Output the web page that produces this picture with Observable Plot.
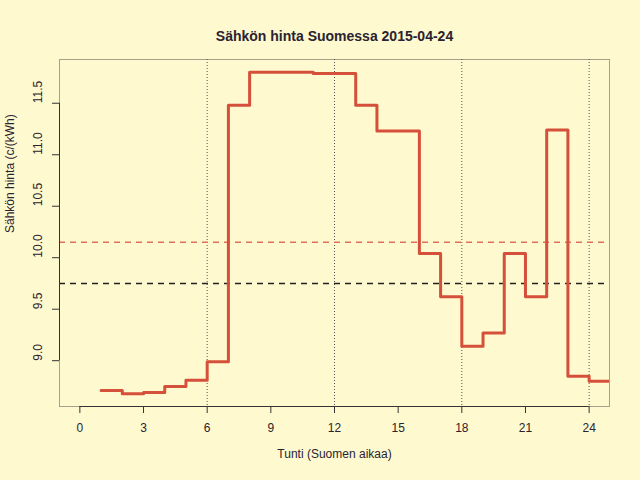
<!DOCTYPE html>
<html>
<head>
<meta charset="utf-8">
<script src="https://cdn.jsdelivr.net/npm/d3@7"></script>
<script src="https://cdn.jsdelivr.net/npm/@observablehq/plot@0.6"></script>
<style>
  html, body { margin: 0; padding: 0; background: #FEF9CE; }
</style>
</head>
<body>
<div id="chart"></div>
<script>
// Hourly electricity price (c/kWh), hour start 1..24
const hours  = [1, 2, 3, 4, 5, 6, 7, 8, 9, 10, 11, 12, 13, 14, 15, 16, 17, 18, 19, 20, 21, 22, 23, 24];
const prices = [8.71, 8.68, 8.69, 8.75, 8.81, 8.99, 11.48, 11.80, 11.80, 11.80, 11.79, 11.79,
                11.48, 11.23, 11.23, 10.04, 9.62, 9.14, 9.27, 10.04, 9.62, 11.24, 8.85, 8.80];
const meanPrice = 10.15;   // red dashed reference
const refPrice  = 9.75;    // black dashed reference
const xTicks = [0, 3, 6, 9, 12, 15, 18, 21, 24];
const yTicks = [9.0, 9.5, 10.0, 10.5, 11.0, 11.5];
const guideHours = [6, 12, 18, 24];
const titleText = "Sähkön hinta Suomessa 2015-04-24";
const xLabel = "Tunti (Suomen aikaa)";
const yLabel = "Sähkön hinta (c/(kWh)";

// step data: each hour's price holds until the next hour
const data = hours.map((h, i) => ({hour: h, price: prices[i]}));
data.push({hour: hours[hours.length - 1] + 1, price: prices[prices.length - 1]});

const xDomain = [-0.96, 24.96];
const yLo = 8.68, yHi = 11.80, pad = (yHi - yLo) * 0.04;
const yDomain = [yLo - pad, yHi + pad];

const ink = "#2a2330";
const font = "'Liberation Sans', Arial, Helvetica, sans-serif";

const chart = Plot.plot({
  width: 640,
  height: 480,
  marginLeft: 59,
  marginRight: 31,
  marginTop: 59,
  marginBottom: 74,
  style: {background: "#FEF9CE", fontFamily: font, color: ink, fontSize: "12px"},
  x: {domain: xDomain},
  y: {domain: yDomain},
  marks: [
    Plot.frame({stroke: "#a8a08c", strokeWidth: 1}),
    Plot.ruleX(guideHours, {stroke: "#555", strokeDasharray: "1,2", strokeWidth: 1}),
    Plot.ruleY([refPrice], {stroke: "#222", strokeDasharray: "6,5", strokeWidth: 1.4}),
    Plot.ruleY([meanPrice], {stroke: "#E0705C", strokeDasharray: "6,5", strokeWidth: 1.4}),
    Plot.line(data, {x: "hour", y: "price", curve: "step-after", stroke: "#D5503A", strokeWidth: 3, clip: true}),
    // axis lines (between first and last tick)
    Plot.ruleY([yDomain[0]], {x1: xTicks[0], x2: xTicks[xTicks.length - 1], stroke: "#333", strokeWidth: 1}),
    Plot.ruleX([xDomain[0]], {y1: yTicks[0], y2: yTicks[yTicks.length - 1], stroke: "#333", strokeWidth: 1}),
    Plot.axisX(xTicks, {tickSize: 7, tickPadding: 10, fontSize: 12, label: null, stroke: "#333", color: ink}),
    Plot.axisY(yTicks, {tickSize: 7, tickFormat: () => "", label: null, stroke: "#333"}),
    Plot.text(yTicks, {y: d => d, text: d => d.toFixed(1), frameAnchor: "left", dx: -21, rotate: -90, fontSize: 12, fill: ink}),
    Plot.text([titleText], {frameAnchor: "top", dy: -28, fontSize: 14, fontWeight: "bold", fill: ink}),
    Plot.text([xLabel], {frameAnchor: "bottom", dy: 51, fontSize: 12, fill: ink}),
    Plot.text([yLabel], {frameAnchor: "left", dx: -49, rotate: -90, fontSize: 12, fill: ink})
  ]
});
document.getElementById("chart").appendChild(chart);
</script>
</body>
</html>
